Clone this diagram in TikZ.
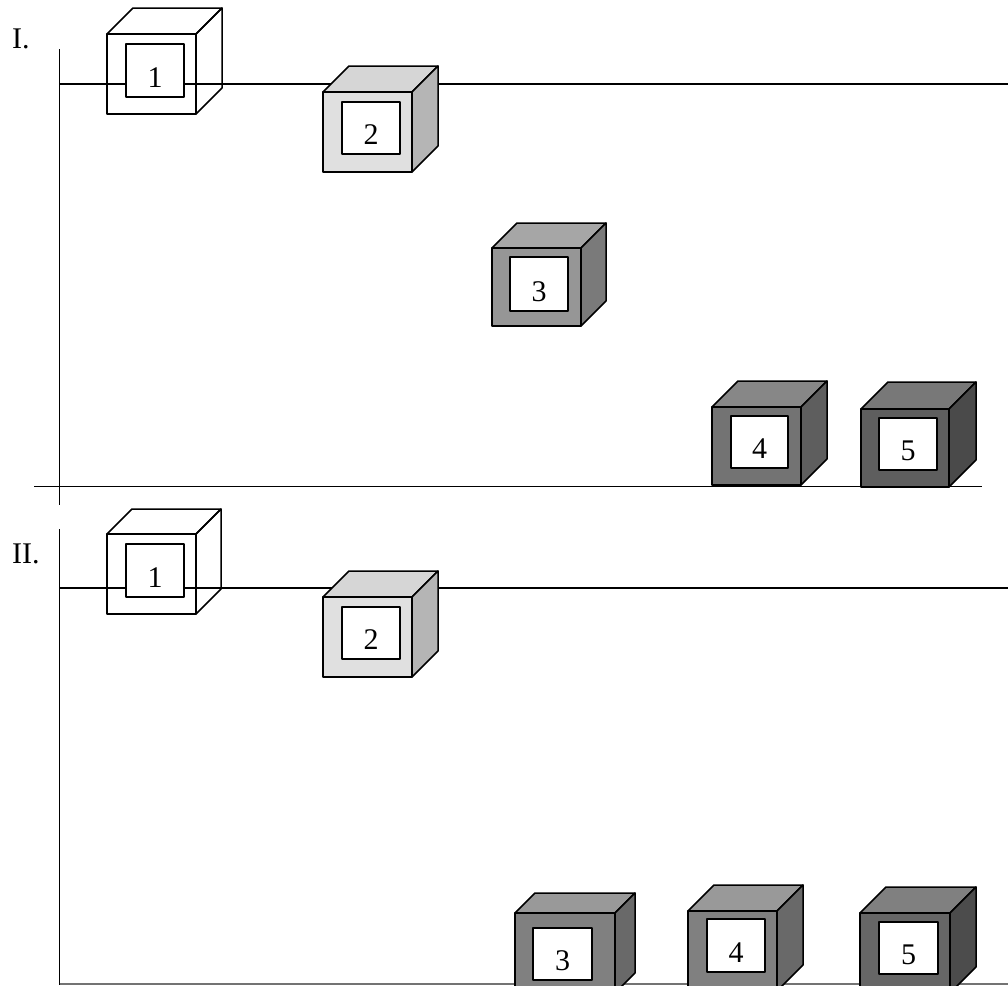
\documentclass[tikz,border=0pt]{standalone}
\usepackage{fontspec}
\setmainfont{Liberation Serif}
\tikzset{
  edge/.style={line width=1.5pt, line join=round},
  axis/.style={line width=1.6pt},
  num/.style={font=\fontsize{30}{30}\selectfont, anchor=base, inner sep=0pt},
  lbl/.style={font=\fontsize{30}{30}\selectfont, anchor=base west, inner sep=0pt},
  inner/.style={edge, fill=white},
  % colour schemes: front / top / right
  wiref/.style={}, wiret/.style={}, wirer/.style={},
  lightf/.style={fill=black!12}, lightt/.style={fill=black!16}, lightr/.style={fill=black!29},
  midf/.style={fill=black!41}, midt/.style={fill=black!35}, midr/.style={fill=black!52},
  darkf/.style={fill=black!55}, darkt/.style={fill=black!47}, darkr/.style={fill=black!63},
  darkerf/.style={fill=black!63}, darkert/.style={fill=black!53}, darkerr/.style={fill=black!71},
  midIIf/.style={fill=black!50}, midIIt/.style={fill=black!40}, midIIr/.style={fill=black!59},
  darkIIf/.style={fill=black!50}, darkIIt/.style={fill=black!40}, darkIIr/.style={fill=black!59},
  darkerIIf/.style={fill=black!60}, darkerIIt/.style={fill=black!50}, darkerIIr/.style={fill=black!70},
}
% #1 left x, #2 top y of front face, #3 width, #4 height, #5 depth, #6 colour scheme
\newcommand{\boxcube}[6]{%
  \draw[edge, #6t] (#1,#2) -- (#1+#5,#2-#5) -- (#1+#3+#5,#2-#5) -- (#1+#3,#2) -- cycle;
  \draw[edge, #6r] (#1+#3,#2) -- (#1+#3+#5,#2-#5) -- (#1+#3+#5,#2+#4-#5) -- (#1+#3,#2+#4) -- cycle;
  \draw[edge, #6f] (#1,#2) rectangle (#1+#3,#2+#4);
}
% #1 name, #2 x1, #3 y1, #4 x2, #5 y2, #6 text
\newcommand{\window}[6]{%
  \draw[inner] (#2,#3) rectangle (#4,#5);
  \node[num] (#1) at ({(#2+#4)/2},#5-10) {#6};
}
\begin{document}
\begin{tikzpicture}[x=1pt,y=-1pt]
\useasboundingbox (0,0) rectangle (1008,985);
\clip (0,0) rectangle (1008,985);
% ---------- Panel I ----------
\node[lbl] (labI) at (12,48) {I.};
\coordinate (vIa) at (59.5,49);
\coordinate (vIb) at (59.5,505);
\coordinate (hIa) at (59.5,84);
\coordinate (hIb) at (1008,84);
\coordinate (bIa) at (34,486.5);
\coordinate (bIb) at (982,486.5);
\draw[axis] (vIa) -- (vIb);
\draw[axis] (hIa) -- (hIb);
\draw[axis] (bIa) -- (bIb);
\boxcube{107}{34}{89}{80}{26}{wire}
\window{nIa}{126}{44}{184}{97}{1}
\boxcube{323}{92}{89}{80}{26}{light}
\window{nIb}{342}{102}{400}{154}{2}
\boxcube{492}{248}{89}{78}{25}{mid}
\window{nIc}{510}{257}{568}{311}{3}
\boxcube{712}{407}{89}{78}{26}{dark}
\window{nId}{731}{416}{788}{468}{4}
\boxcube{861}{409}{88}{78}{27}{darker}
\window{nIe}{879}{418}{937}{470}{5}
% ---------- Panel II ----------
\node[lbl] (labII) at (12,563) {II.};
\coordinate (vIIa) at (59.5,529);
\coordinate (vIIb) at (59.5,985);
\coordinate (hIIa) at (59.5,588);
\coordinate (hIIb) at (1008,588);
\coordinate (bIIa) at (59.5,984);
\coordinate (bIIb) at (1008,984);
\draw[axis] (vIIa) -- (vIIb);
\draw[axis] (hIIa) -- (hIIb);
\draw[axis, black!55] (bIIa) -- (bIIb);
\boxcube{107}{534}{89}{80}{25}{wire}
\window{nIIa}{126}{544}{184}{597}{1}
\boxcube{323}{597}{89}{80}{26}{light}
\window{nIIb}{342}{607}{400}{659}{2}
\boxcube{515}{913}{100}{80}{20}{midII}
\window{nIIc}{533}{928}{592}{980}{3}
\boxcube{688}{911}{89}{80}{26}{darkII}
\window{nIId}{707}{919}{765}{972}{4}
\boxcube{860}{913}{90}{80}{26}{darkerII}
\window{nIIe}{879}{922}{938}{974}{5}
\end{tikzpicture}
\end{document}
